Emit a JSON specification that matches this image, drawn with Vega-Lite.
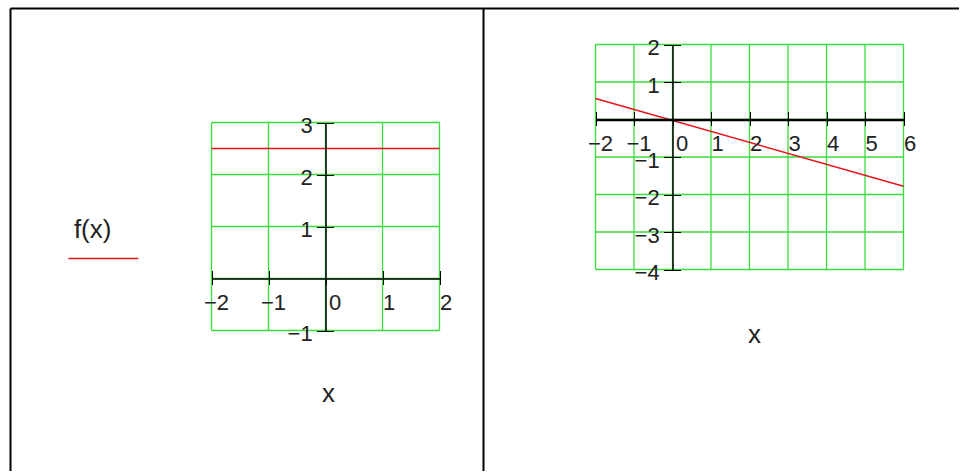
{
  "$schema": "https://vega.github.io/schema/vega-lite/v6.json",
  "padding": {"left": 10, "top": 8, "right": 0, "bottom": 0},
  "spacing": 0,
  "bounds": "flush",
  "background": "white",
  "config": {
    "view": {"stroke": null},
    "font": "Liberation Sans",
    "axis": {
      "labelFont": "Liberation Sans", "titleFont": "Liberation Sans",
      "labelFontSize": 22, "labelColor": "#222",
      "titleFontSize": 26, "titleFontWeight": "normal", "titleColor": "#222",
      "domainColor": "#000", "domainWidth": 1.5, "tickColor": "#000", "grid": false,
      "labelFlush": false, "labelOverlap": false, "labelBound": false
    }
  },
  "datasets": {
    "frame": [{"fx": 0.5, "fy": 0.5}],
    "gvL": [
      {"gx": -2, "gy1": -1, "gy2": 3}, {"gx": -1, "gy1": -1, "gy2": 3}, {"gx": 0, "gy1": -1, "gy2": 3},
      {"gx": 1, "gy1": -1, "gy2": 3}, {"gx": 2, "gy1": -1, "gy2": 3}
    ],
    "ghL": [
      {"hy": -1, "hx1": -2, "hx2": 2}, {"hy": 0, "hx1": -2, "hx2": 2}, {"hy": 1, "hx1": -2, "hx2": 2},
      {"hy": 2, "hx1": -2, "hx2": 2}, {"hy": 3, "hx1": -2, "hx2": 2}
    ],
    "lineL": [{"x": -2, "y": 2.5, "series": "f(x)"}, {"x": 2, "y": 2.5, "series": "f(x)"}],
    "gvR": [
      {"gx": -2, "gy1": -4, "gy2": 2}, {"gx": -1, "gy1": -4, "gy2": 2}, {"gx": 0, "gy1": -4, "gy2": 2},
      {"gx": 1, "gy1": -4, "gy2": 2}, {"gx": 2, "gy1": -4, "gy2": 2}, {"gx": 3, "gy1": -4, "gy2": 2},
      {"gx": 4, "gy1": -4, "gy2": 2}, {"gx": 5, "gy1": -4, "gy2": 2}, {"gx": 6, "gy1": -4, "gy2": 2}
    ],
    "ghR": [
      {"hy": -4, "hx1": -2, "hx2": 6}, {"hy": -3, "hx1": -2, "hx2": 6}, {"hy": -2, "hx1": -2, "hx2": 6},
      {"hy": -1, "hx1": -2, "hx2": 6}, {"hy": 0, "hx1": -2, "hx2": 6}, {"hy": 1, "hx1": -2, "hx2": 6},
      {"hy": 2, "hx1": -2, "hx2": 6}
    ],
    "lineR": [{"x": -2, "y": 0.56, "series": "f(x)"}, {"x": 6, "y": -1.78, "series": "f(x)"}]
  },
  "resolve": {"scale": {"color": "independent"}, "legend": {"color": "independent"}},
  "hconcat": [
    {
      "width": 473,
      "height": 463,
      "resolve": {"scale": {"x": "independent", "y": "independent"}, "axis": {"x": "independent", "y": "independent"}},
      "layer": [
        {
          "data": {"name": "frame"},
          "mark": {"type": "point", "opacity": 0, "size": 1},
          "encoding": {
            "x": {"field": "fx", "type": "quantitative", "scale": {"domain": [0, 1], "nice": false, "zero": false},
              "axis": {"orient": "top", "domainWidth": 2, "domainColor": "#000", "ticks": false, "labels": false, "title": null, "zindex": 2}},
            "y": {"field": "fy", "type": "quantitative", "scale": {"domain": [0, 1], "nice": false, "zero": false},
              "axis": {"orient": "left", "domainWidth": 2, "domainColor": "#000", "ticks": false, "labels": false, "title": null, "zindex": 2}}
          }
        },
        {
          "data": {"name": "gvL"},
          "mark": {"type": "rule", "color": "#3cdc3c", "strokeWidth": 1.3},
          "encoding": {
            "x": {"field": "gx", "type": "quantitative", "scale": {"domain": [-2, 2], "range": [201.5, 429.5], "nice": false, "zero": false},
              "axis": {"orient": "bottom", "offset": -192.5, "values": [-2, -1, 0, 1, 2], "tickSize": 6, "labelPadding": 7.5,
                "labelAlign": "left", "labelBaseline": "top",
                "labelOffset": {"condition": [{"test": "datum.value < 0", "value": -8}, {"test": "datum.value == 0", "value": 3}], "value": 0},
                "title": "x", "titleX": 318, "titleY": 115.4, "titleBaseline": "middle", "zindex": 1}},
            "y": {"field": "gy1", "type": "quantitative", "scale": {"domain": [-1, 3], "range": [322.5, 114.5], "nice": false, "zero": false},
              "axis": {"orient": "left", "offset": -315.5, "values": [-1, 1, 2, 3], "tickSize": 9, "labelPadding": 4.3, "labelOffset": 3, "title": null, "zindex": 1}},
            "y2": {"field": "gy2"}
          }
        },
        {
          "data": {"name": "ghL"},
          "mark": {"type": "rule", "color": "#3cdc3c", "strokeWidth": 1.3},
          "encoding": {
            "y": {"field": "hy", "type": "quantitative", "scale": {"domain": [-1, 3], "range": [322.5, 114.5], "nice": false, "zero": false},
              "axis": {"orient": "right", "offset": -157.5, "values": [-1, 1, 2, 3], "tickSize": 8, "labels": false, "domain": false, "title": null, "zindex": 1}},
            "x": {"field": "hx1", "type": "quantitative", "scale": {"domain": [-2, 2], "range": [201.5, 429.5], "nice": false, "zero": false},
              "axis": {"orient": "top", "offset": -270.5, "values": [-2, -1, 1, 2], "tickSize": 8, "labels": false, "domain": false, "title": null, "zindex": 1}},
            "x2": {"field": "hx2"}
          }
        },
        {
          "data": {"name": "lineL"},
          "mark": {"type": "line", "strokeWidth": 1.5},
          "encoding": {
            "x": {"field": "x", "type": "quantitative", "scale": {"domain": [-2, 2], "range": [201.5, 429.5], "nice": false, "zero": false}, "axis": null},
            "y": {"field": "y", "type": "quantitative", "scale": {"domain": [-1, 3], "range": [322.5, 114.5], "nice": false, "zero": false}, "axis": null},
            "color": {"field": "series", "type": "nominal", "scale": {"range": ["#e8141c"]},
              "legend": {"orient": "none", "legendX": 63.9, "legendY": 208.5, "padding": 0,
                "title": "f(x)", "titleFont": "Liberation Sans", "titleFontSize": 26, "titleFontWeight": "normal", "titleColor": "#222",
                "titleAnchor": "start", "titleAlign": "left", "titlePadding": -20,
                "symbolType": "stroke", "symbolSize": 4900, "symbolStrokeWidth": 1.5, "symbolOffset": -6.5,
                "labelExpr": "''"}}
          }
        }
      ]
    },
    {
      "width": 476,
      "height": 463,
      "resolve": {"scale": {"x": "independent", "y": "independent"}, "axis": {"x": "independent", "y": "independent"}},
      "layer": [
        {
          "data": {"name": "frame"},
          "mark": {"type": "point", "opacity": 0, "size": 1},
          "encoding": {
            "x": {"field": "fx", "type": "quantitative", "scale": {"domain": [0, 1], "nice": false, "zero": false},
              "axis": {"orient": "top", "domainWidth": 2, "domainColor": "#000", "ticks": false, "labels": false, "title": null, "zindex": 2}},
            "y": {"field": "fy", "type": "quantitative", "scale": {"domain": [0, 1], "nice": false, "zero": false},
              "axis": {"orient": "left", "domainWidth": 2, "domainColor": "#000", "ticks": false, "labels": false, "title": null, "zindex": 2}}
          }
        },
        {
          "data": {"name": "gvR"},
          "mark": {"type": "rule", "color": "#3cdc3c", "strokeWidth": 1.3},
          "encoding": {
            "x": {"field": "gx", "type": "quantitative", "scale": {"domain": [-2, 6], "range": [112.5, 420.5], "nice": false, "zero": false},
              "axis": {"orient": "bottom", "offset": -351.5, "values": [-2, -1, 0, 1, 2, 3, 4, 5, 6], "tickSize": 6, "labelPadding": 7.5,
                "labelAlign": "left", "labelBaseline": "top", "domainWidth": 2.5,
                "labelOffset": {"condition": [{"test": "datum.value < 0", "value": -8}, {"test": "datum.value == 0", "value": 3}], "value": 0},
                "title": "x", "titleX": 271, "titleY": 215.3, "titleBaseline": "middle", "zindex": 1}},
            "y": {"field": "gy1", "type": "quantitative", "scale": {"domain": [-4, 2], "range": [261.5, 36.5], "nice": false, "zero": false},
              "axis": {"orient": "left", "offset": -189.5, "values": [-4, -3, -2, -1, 1, 2], "tickSize": 9, "labelPadding": 4.3, "labelOffset": 3, "title": null, "zindex": 1}},
            "y2": {"field": "gy2"}
          }
        },
        {
          "data": {"name": "ghR"},
          "mark": {"type": "rule", "color": "#3cdc3c", "strokeWidth": 1.3},
          "encoding": {
            "y": {"field": "hy", "type": "quantitative", "scale": {"domain": [-4, 2], "range": [261.5, 36.5], "nice": false, "zero": false},
              "axis": {"orient": "right", "offset": -286.5, "values": [-4, -3, -2, -1, 1, 2], "tickSize": 8, "labels": false, "domain": false, "title": null, "zindex": 1}},
            "x": {"field": "hx1", "type": "quantitative", "scale": {"domain": [-2, 6], "range": [112.5, 420.5], "nice": false, "zero": false},
              "axis": {"orient": "top", "offset": -111.5, "values": [-2, -1, 1, 2, 3, 4, 5, 6], "tickSize": 8, "labels": false, "domain": false, "title": null, "zindex": 1}},
            "x2": {"field": "hx2"}
          }
        },
        {
          "data": {"name": "lineR"},
          "mark": {"type": "line", "strokeWidth": 1.5, "color": "#e8141c"},
          "encoding": {
            "x": {"field": "x", "type": "quantitative", "scale": {"domain": [-2, 6], "range": [112.5, 420.5], "nice": false, "zero": false}, "axis": null},
            "y": {"field": "y", "type": "quantitative", "scale": {"domain": [-4, 2], "range": [261.5, 36.5], "nice": false, "zero": false}, "axis": null}
          }
        }
      ]
    }
  ]
}
